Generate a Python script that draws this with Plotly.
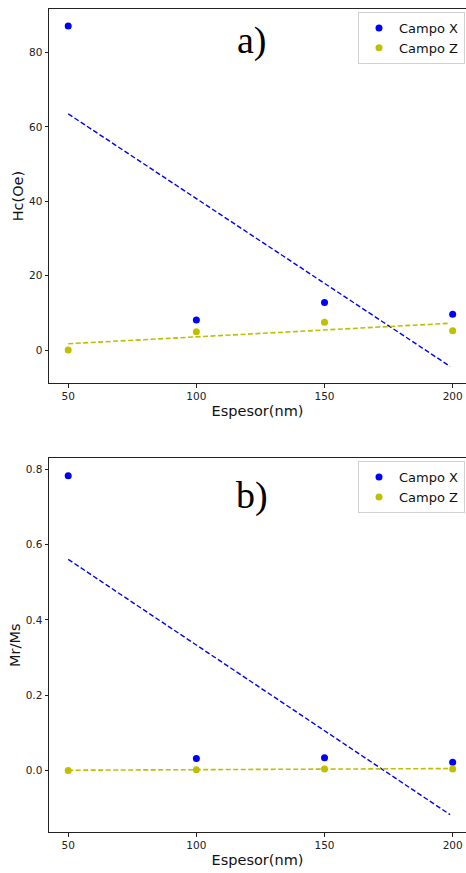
import plotly.graph_objects as go

espesor = [50, 100, 150, 200]
hc_x = [87.1, 8.1, 12.8, 9.6]
hc_z = [0.0, 4.9, 7.5, 5.2]
hc_fit_x_ends = [50, 199]
hc_fit_x = [63.5, -4.4]
hc_fit_z = [1.7, 7.2]

mr_x = [0.783, 0.032, 0.0345, 0.022]
mr_z = [0.0, 0.002, 0.004, 0.004]
mr_fit_x_ends = [50, 199]
mr_fit_x = [0.561, -0.117]
mr_fit_z = [0.001, 0.0055]

BLUE = "#0000ff"
YEL = "#bfbf00"
FONT = "DejaVu Sans"

fig = go.Figure()

# top panel
fig.add_trace(go.Scatter(x=hc_fit_x_ends, y=hc_fit_x, mode="lines", xaxis="x", yaxis="y",
                         line=dict(color=BLUE, width=1.4, dash="5px,2.5px"), showlegend=False))
fig.add_trace(go.Scatter(x=hc_fit_x_ends, y=hc_fit_z, mode="lines", xaxis="x", yaxis="y",
                         line=dict(color=YEL, width=1.6, dash="5px,2.5px"), showlegend=False))
fig.add_trace(go.Scatter(x=espesor, y=hc_x, mode="markers", name="Campo X", xaxis="x", yaxis="y",
                         marker=dict(color=BLUE, size=7), legend="legend"))
fig.add_trace(go.Scatter(x=espesor, y=hc_z, mode="markers", name="Campo Z", xaxis="x", yaxis="y",
                         marker=dict(color=YEL, size=7), legend="legend"))

# bottom panel
fig.add_trace(go.Scatter(x=mr_fit_x_ends, y=mr_fit_x, mode="lines", xaxis="x2", yaxis="y2",
                         line=dict(color=BLUE, width=1.4, dash="5px,2.5px"), showlegend=False))
fig.add_trace(go.Scatter(x=mr_fit_x_ends, y=mr_fit_z, mode="lines", xaxis="x2", yaxis="y2",
                         line=dict(color=YEL, width=1.6, dash="5px,2.5px"), showlegend=False))
fig.add_trace(go.Scatter(x=espesor, y=mr_x, mode="markers", name="Campo X", xaxis="x2", yaxis="y2",
                         marker=dict(color=BLUE, size=7), legend="legend2"))
fig.add_trace(go.Scatter(x=espesor, y=mr_z, mode="markers", name="Campo Z", xaxis="x2", yaxis="y2",
                         marker=dict(color=YEL, size=7), legend="legend2"))

axis_common = dict(showgrid=False, zeroline=False, showline=True, linecolor="#222", linewidth=1,
                   ticks="outside", ticklen=3.5, tickcolor="#222", tickwidth=0.8,
                   tickfont=dict(family=FONT, size=10.5, color="#222"))

legend_common = dict(font=dict(family=FONT, size=13, color="#111"), bgcolor="rgba(255,255,255,0.8)",
                     bordercolor="#d0d0d0", borderwidth=1, xanchor="right", yanchor="top",
                     tracegroupgap=0)

title_font = dict(family=FONT, size=14.5, color="#111")

fig.update_layout(
    width=466, height=873,
    margin=dict(l=49, r=0, t=9, b=41),
    paper_bgcolor="white", plot_bgcolor="white",
    xaxis=dict(domain=[0, 1], anchor="y", range=[42.5, 205.2], tickvals=[50, 100, 150, 200],
               mirror=True,
               title=dict(text="Espesor(nm)", font=title_font, standoff=4),
               **axis_common),
    yaxis=dict(domain=[0.5454, 1], anchor="x", range=[-8.9, 91.7], tickvals=[0, 20, 40, 60, 80],
               title=dict(text="Hc(Oe)", font=title_font, standoff=1),
               **axis_common),
    xaxis2=dict(domain=[0, 1], anchor="y2", range=[42.5, 205.2], tickvals=[50, 100, 150, 200],
                mirror=True,
                title=dict(text="Espesor(nm)", font=title_font, standoff=4),
                **axis_common),
    yaxis2=dict(domain=[0, 0.4539], anchor="x2", range=[-0.163, 0.829],
                tickvals=[0.0, 0.2, 0.4, 0.6, 0.8], ticktext=["0.0", "0.2", "0.4", "0.6", "0.8"],
                title=dict(text="Mr/Ms", font=title_font, standoff=1),
                **axis_common),
    legend=dict(x=0.9976, y=0.9964, **legend_common),
    legend2=dict(x=0.9976, y=0.4506, **legend_common),
    annotations=[
        dict(text="a)", x=0.487, y=83.3, xref="paper", yref="y", showarrow=False,
             font=dict(family="Liberation Serif", size=38, color="black")),
        dict(text="b)", x=0.487, y=0.731, xref="paper", yref="y2", showarrow=False,
             font=dict(family="Liberation Serif", size=38, color="black")),
    ],
)

fig.write_html("out.html", config={"displayModeBar": False},
               post_script="document.body.style.margin='0';document.body.style.overflow='hidden';")
